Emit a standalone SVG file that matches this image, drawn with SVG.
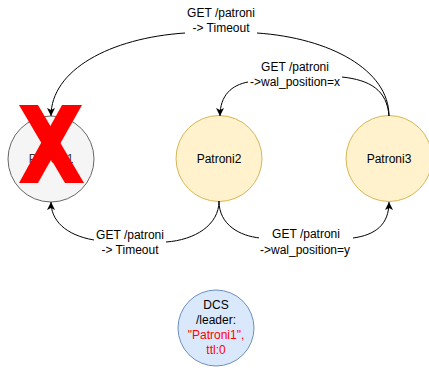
<svg xmlns="http://www.w3.org/2000/svg" width="429" height="370" viewBox="0 0 429 370">
<style>
text{font-family:"Liberation Sans",Arial,Helvetica,sans-serif;font-size:12px;text-anchor:middle;fill:#000}
.edge{fill:none;stroke:#000;stroke-width:1}
.lbl{fill:#fff;stroke:none}
.gray{fill:#f5f5f5;stroke:#666;stroke-width:1}
.yel{fill:#fff2cc;stroke:#d6b656;stroke-width:1}
.blue{fill:#dae8fc;stroke:#6c8ebf;stroke-width:1}
.redx{fill:#ff0000;stroke:none}
</style>
<defs>
<marker id="arr" markerUnits="userSpaceOnUse" markerWidth="10" markerHeight="10" refX="8" refY="4" orient="auto">
<path d="M0,0 L8,4 L0,8 L2,4 Z" fill="#000"/>
</marker>
</defs>
<rect width="429" height="370" fill="#fff"/>
<g id="patroni1">
<circle class="gray" cx="51" cy="159" r="43"/>
<text x="51" y="163" style="fill:#333">Patroni1</text>
<polygon class="redx" points="19,105 38,105 84,183 65,183"/>
<polygon class="redx" points="62,105 82,105 38,183 19,183"/>
</g>
<g id="patroni2">
<circle class="yel" cx="219" cy="158.5" r="43"/>
<text x="219" y="163">Patroni2</text>
</g>
<g id="patroni3">
<circle class="yel" cx="389" cy="158.5" r="43"/>
<text x="389" y="163">Patroni3</text>
</g>
<g id="dcs">
<circle class="blue" cx="216" cy="328" r="38"/>
<text x="216" y="308.5">DCS</text>
<text x="216" y="323.5">/leader:</text>
<text x="216" y="339" style="fill:#ff0000">"Patroni1",</text>
<text x="216" y="353.5" style="fill:#ff0000">ttl:0</text>
</g>
<g id="connectors">
<path class="edge" marker-end="url(#arr)" d="M389,116 C389,70 330,38 257,33 L185,33 C110,38 51,70 51,116"/>
<rect class="lbl" x="185" y="4" width="72" height="32"/>
<text x="221" y="17">GET /patroni</text>
<text x="221" y="32">-&gt; Timeout</text>

<path class="edge" marker-end="url(#arr)" d="M389,116 C387,90 370,80 342,77 L248,82 C232,85 220,95 220,116"/>
<rect class="lbl" x="248" y="58" width="94" height="31"/>
<text x="295" y="70.5">GET /patroni</text>
<text x="295" y="86">-&gt;wal_position=x</text>

<path class="edge" marker-end="url(#arr)" d="M219,201 C219,225 195,240 166,242 L94,240 C65,235 51,220 51,202"/>
<rect class="lbl" x="94" y="225" width="72" height="32"/>
<text x="130" y="238.5">GET /patroni</text>
<text x="130" y="253.5">-&gt; Timeout</text>

<path class="edge" marker-end="url(#arr)" d="M219,201 C219,225 240,236 260,238 L353,238 C375,235 389,225 389,202"/>
<rect class="lbl" x="259" y="225" width="94" height="32"/>
<text x="306" y="238">GET /patroni</text>
<text x="305" y="253.5">-&gt;wal_position=y</text>
</g>
</svg>
